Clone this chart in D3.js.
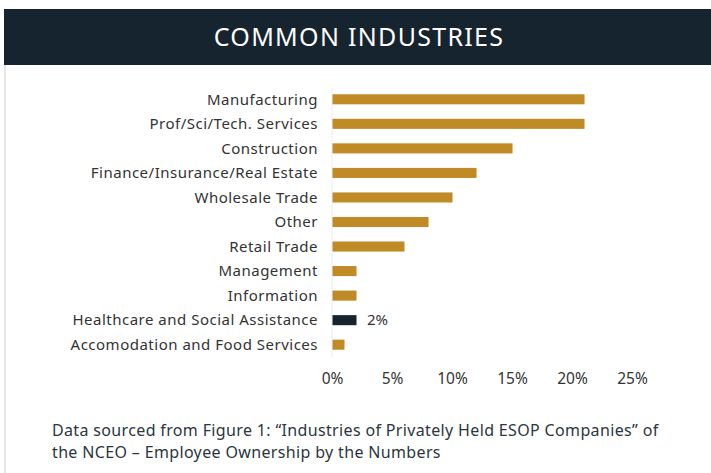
<!DOCTYPE html>
<html>
<head>
<meta charset="utf-8">
<script src="https://cdn.jsdelivr.net/npm/d3@7"></script>
<style>
  body { margin: 0; background: #fff; }
  svg text { font-family: 'Noto Sans', sans-serif; }
</style>
</head>
<body>
<div id="chart"></div>
<script>
var industries = ['Manufacturing', 'Prof/Sci/Tech. Services', 'Construction',
  'Finance/Insurance/Real Estate', 'Wholesale Trade', 'Other', 'Retail Trade',
  'Management', 'Information', 'Healthcare and Social Assistance',
  'Accomodation and Food Services']
var shares = [21, 21, 15, 12, 10, 8, 6, 2, 2, 2, 1]
var highlight = 'Healthcare and Social Assistance'
var xTicks = [0, 5, 10, 15, 20, 25]
var title = 'COMMON INDUSTRIES'
var source = ['Data sourced from Figure 1: \u201cIndustries of Privately Held ESOP Companies\u201d of',
  'the NCEO \u2013 Employee Ownership by the Numbers']

var width = 711, height = 473
var gold = '#c08a26', navy = '#15242f'

var svg = d3.select('#chart').append('svg')
  .attr('width', width)
  .attr('height', height)

// header band
svg.append('rect')
  .attr('x', 4).attr('y', 9)
  .attr('width', width - 4).attr('height', 56)
  .attr('fill', navy)

svg.append('text')
  .attr('x', 359).attr('y', 37)
  .attr('dy', '0.35em')
  .attr('text-anchor', 'middle')
  .attr('fill', '#fff')
  .attr('font-size', 25)
  .attr('letter-spacing', 1.3)
  .text(title)

// left border
svg.append('rect')
  .attr('x', 4).attr('y', 65)
  .attr('width', 2).attr('height', height - 65)
  .attr('fill', '#e6e6e6')

var x = d3.scaleLinear().domain([0, 25]).range([332, 632])
var y = d3.scaleBand()
  .domain(industries)
  .range([82, 362])
  .paddingInner(0.59)
  .paddingOuter(0.5)

// baseline
svg.append('line')
  .attr('x1', x(0)).attr('x2', x(0))
  .attr('y1', 88).attr('y2', 358)
  .attr('stroke', '#ececec')
  .attr('stroke-width', 1)

svg.append('g')
  .selectAll('rect')
  .data(industries)
  .enter()
  .append('rect')
  .attr('x', x(0) + 0.5)
  .attr('y', d => y(d))
  .attr('width', (d, i) => x(shares[i]) - x(0))
  .attr('height', y.bandwidth())
  .attr('fill', d => d === highlight ? navy : gold)

// category labels
svg.append('g')
  .selectAll('text')
  .data(industries)
  .enter()
  .append('text')
  .attr('x', 318)
  .attr('y', d => y(d) + y.bandwidth() / 2)
  .attr('dy', '0.35em')
  .attr('text-anchor', 'end')
  .attr('font-size', 15)
  .attr('letter-spacing', 0.5)
  .attr('fill', '#333')
  .text(d => d)

// value label for highlighted bar
var hi = industries.indexOf(highlight)
svg.append('text')
  .attr('x', x(shares[hi]) + 11)
  .attr('y', y(highlight) + y.bandwidth() / 2)
  .attr('dy', '0.35em')
  .attr('font-size', 15)
  .attr('fill', '#333')
  .text(shares[hi] + '%')

// x axis
var xAxis = svg.append('g')
  .attr('transform', 'translate(0,373)')
  .call(d3.axisBottom(x).tickValues(xTicks).tickSize(0).tickPadding(0)
    .tickFormat(d => d + '%'))
xAxis.select('.domain').remove()
xAxis.selectAll('text')
  .attr('font-family', "'Noto Sans', sans-serif")
  .attr('font-size', 15.5)
  .attr('fill', '#333')

// source note
svg.append('g')
  .selectAll('text')
  .data(source)
  .enter()
  .append('text')
  .attr('x', 52)
  .attr('y', (d, i) => 436 + i * 22)
  .attr('font-size', 16)
  .attr('letter-spacing', 0.35)
  .attr('fill', '#2b3640')
  .text(d => d)
</script>
</body>
</html>
